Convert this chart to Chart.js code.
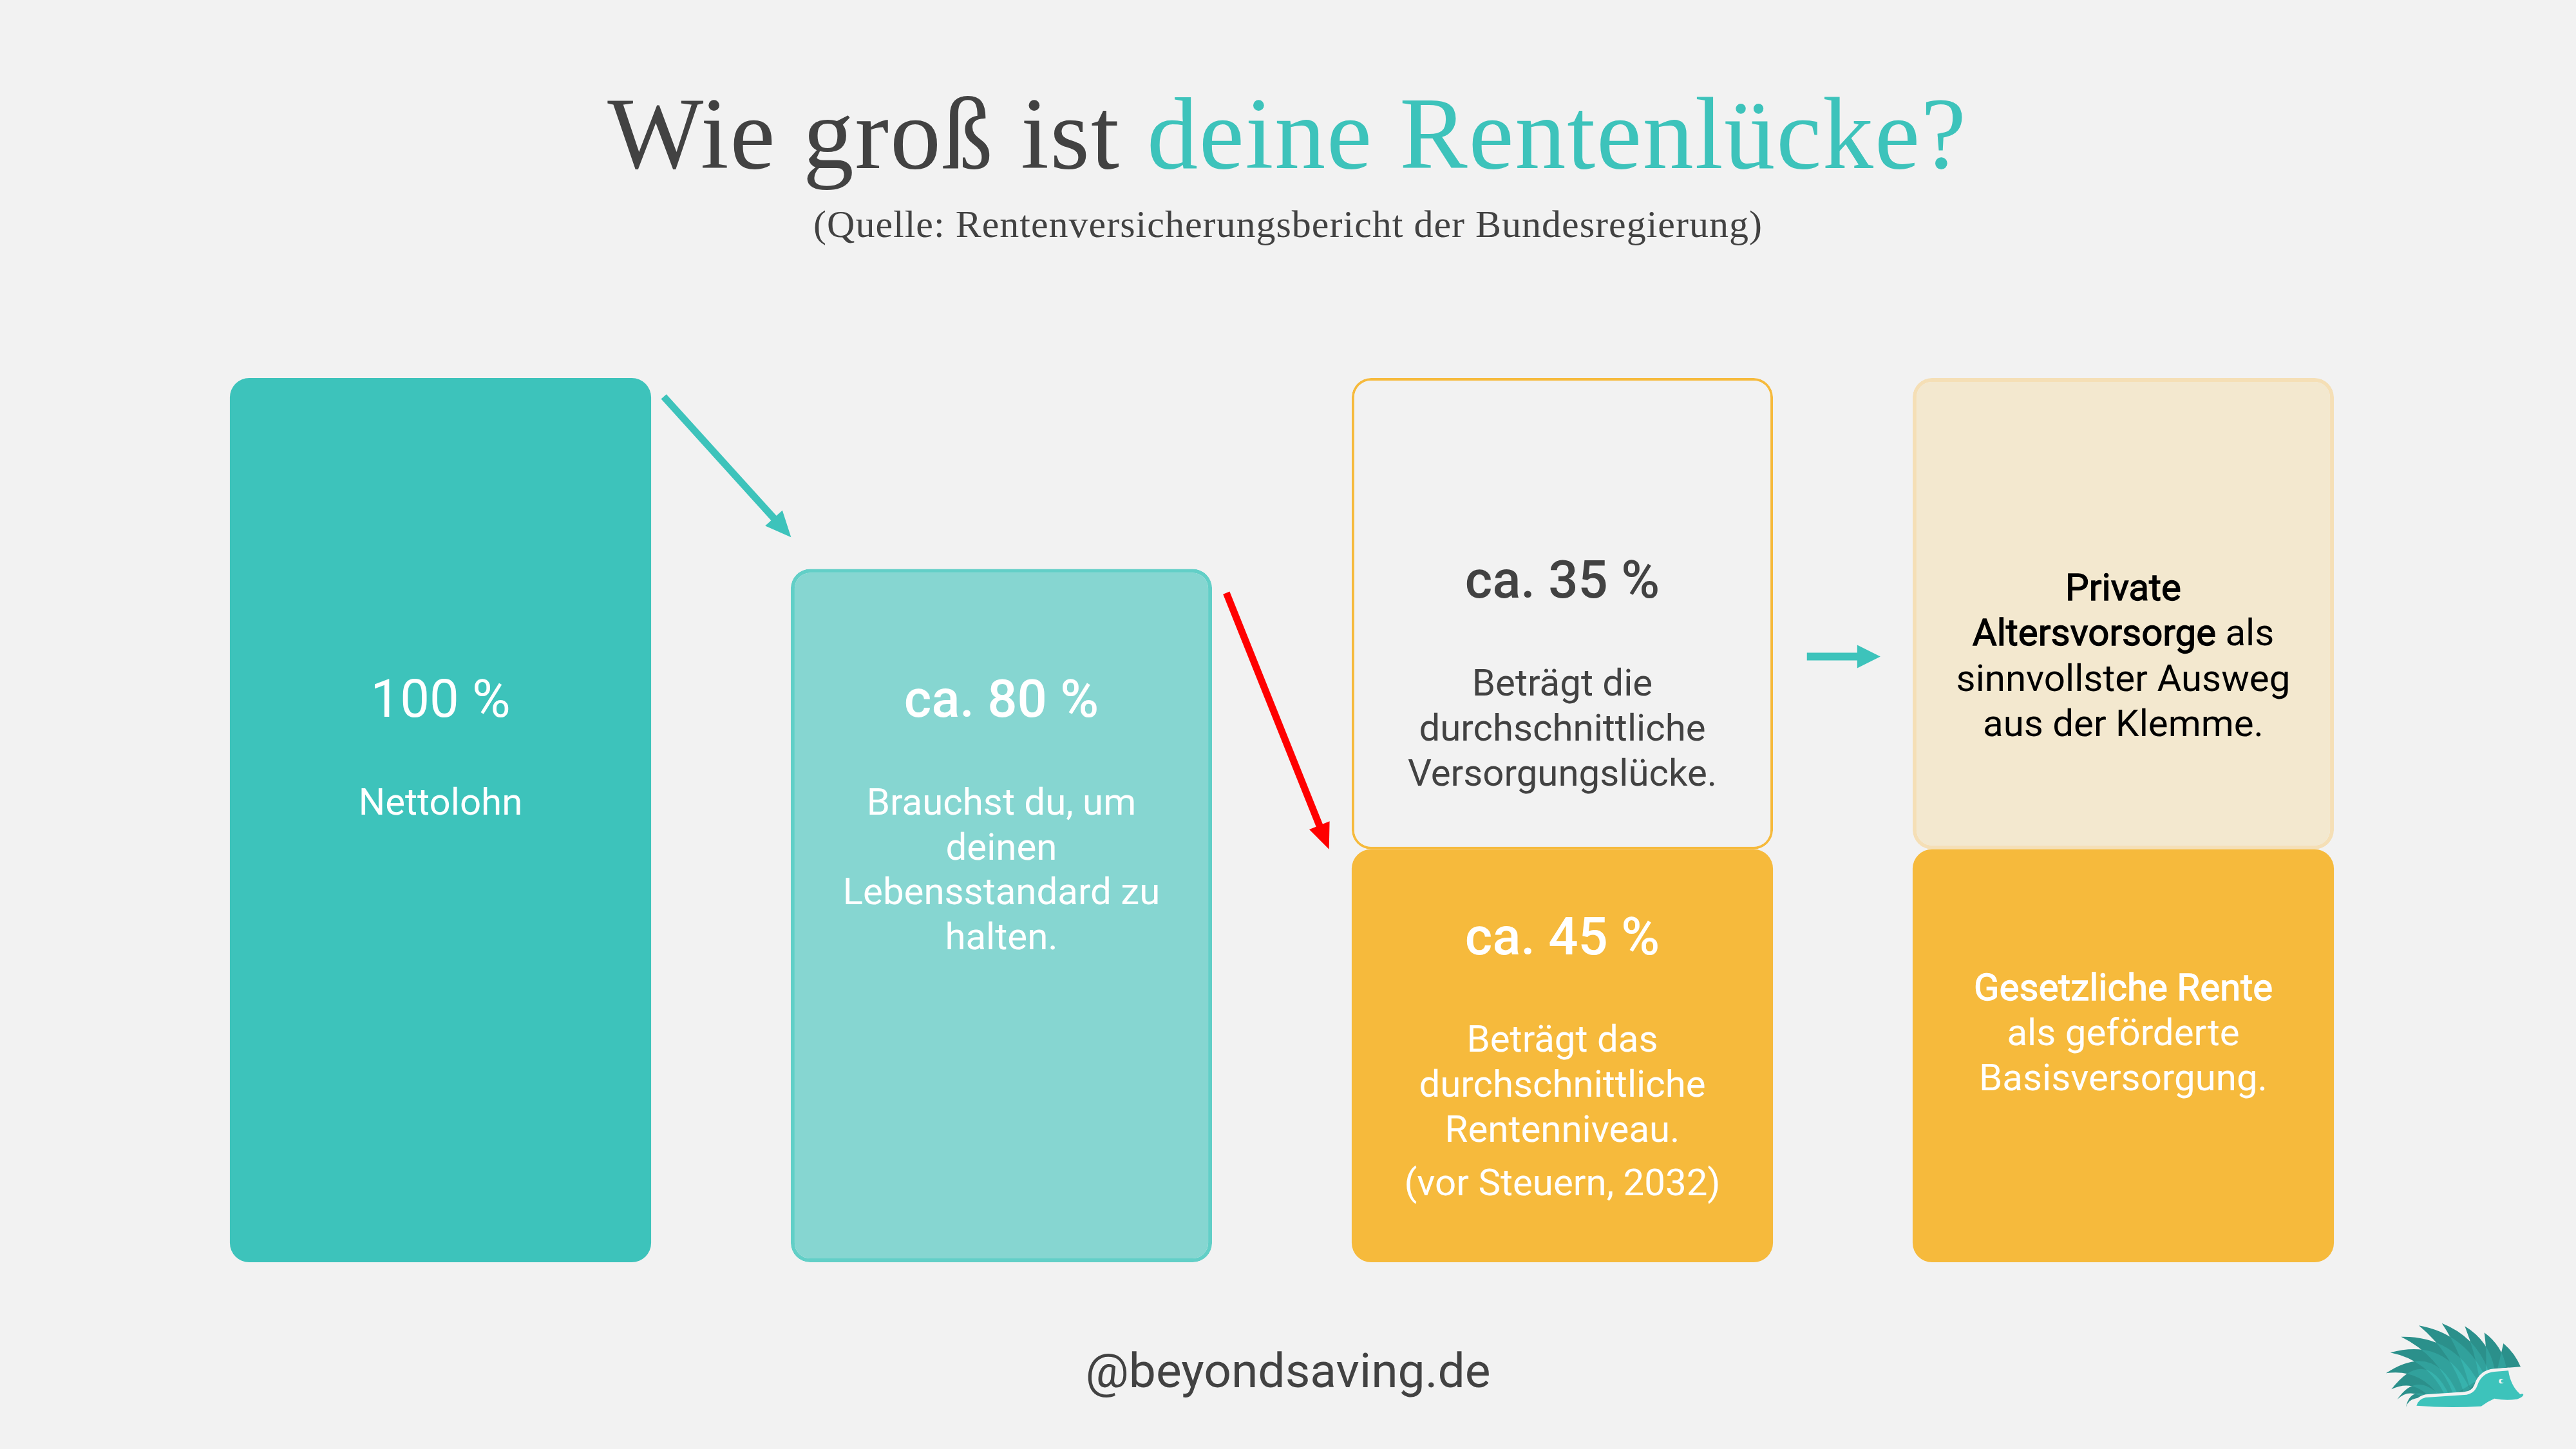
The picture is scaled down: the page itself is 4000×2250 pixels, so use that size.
<!DOCTYPE html>
<html lang="de"><head><meta charset="utf-8">
<style>html,body{margin:0;padding:0;background:#F2F2F2}canvas{display:block}</style>
<script src="https://cdn.jsdelivr.net/npm/chart.js@4/dist/chart.umd.min.js"></script>
</head><body><canvas id="c" width="4000" height="2250"></canvas>
<script>
const categories = ['Nettolohn', 'Lebensstandard', 'Rentenniveau', 'Vorsorge'];
const lowerValues = [100, 78.4, 46.7, 46.7];
const upperValues = [0, 0, 53.3, 53.3];
const titleDark = 'Wie groß ist ';
const titleTeal = 'deine Rentenlücke?';
const subtitle = '(Quelle: Rentenversicherungsbericht der Bundesregierung)';
const handle = '@beyondsaving.de';
const heads = ['100 %', 'ca. 80 %', 'ca. 35 %', 'ca. 45 %'];
const nettoLines = ['Nettolohn'];
const brauchLines = ['Brauchst du, um', 'deinen', 'Lebensstandard zu', 'halten.'];
const lueckeLines = ['Beträgt die', 'durchschnittliche', 'Versorgungslücke.'];
const niveauLines = ['Beträgt das', 'durchschnittliche', 'Rentenniveau.'];
const niveauNote = '(vor Steuern, 2032)';
const privatLines = ['Private', 'Altersvorsorge als', 'sinnvollster Ausweg', 'aus der Klemme.'];
const gesetzLines = ['Gesetzliche Rente', 'als geförderte', 'Basisversorgung.'];

const BG='#F2F2F2', TEAL='#3DC3BB', ORANGE='#F6BA3C', DARK='#424242';
const R={topLeft:30,topRight:30,bottomLeft:30,bottomRight:30};

function arrow(ctx,x0,y0,x1,y1,color,lw,hl,hw){
  const a=Math.atan2(y1-y0,x1-x0),c=Math.cos(a),s=Math.sin(a);
  const bx=x1-c*hl,by=y1-s*hl;
  ctx.save();ctx.strokeStyle=color;ctx.fillStyle=color;ctx.lineWidth=lw;
  ctx.beginPath();ctx.moveTo(x0,y0);ctx.lineTo(bx+c,by+s);ctx.stroke();
  ctx.beginPath();ctx.moveTo(x1,y1);ctx.lineTo(bx-s*hw/2,by+c*hw/2);ctx.lineTo(bx+s*hw/2,by-c*hw/2);ctx.closePath();ctx.fill();
  ctx.restore();
}
const LEAVES=[[682,198,762,307,655,315,.12,0],[593,148,695,310,600,325,.2,.05],[502,118,640,315,570,360,.22,.05],[395,104,610,320,530,430,.22,.1],[288,115,590,340,500,435,.25,.15],[205,167,560,370,450,438,.3,.2],[155,241,530,420,410,440,.43,.25],[135,337,470,438,380,440,.6,.3],[160,412,430,440,330,440,.8,.35],[187,460,385,440,290,440,.6,.35],[228,495,330,440,270,455,.6,.3]];
function logo(ctx,ox,oy,k){
  ctx.save();ctx.translate(ox,oy);ctx.scale(k,k);
  const path=l=>{const [tx,ty,rx,ry,lx,ly,q1,q2]=l;
    const bulge=(ax,ay,bx,by,q)=>[(ax+bx)/2+(by-ay)*q,(ay+by)/2-(bx-ax)*q];
    const c1=bulge(tx,ty,rx,ry,q1),c2=bulge(tx,ty,lx,ly,q2);
    ctx.beginPath();ctx.moveTo(tx,ty);ctx.quadraticCurveTo(c1[0],c1[1],rx,ry);ctx.lineTo(lx,ly);ctx.quadraticCurveTo(c2[0],c2[1],tx,ty);ctx.closePath();};
  ctx.fillStyle='rgb(37,127,122)';LEAVES.forEach(l=>{path(l);ctx.fill();});
  ctx.globalCompositeOperation='lighter';ctx.fillStyle='rgb(6,17,17)';LEAVES.forEach(l=>{path(l);ctx.fill();});
  ctx.globalCompositeOperation='source-over';
  const body=()=>{ctx.beginPath();ctx.moveTo(277,488);ctx.quadraticCurveTo(285,458,320,450);ctx.lineTo(500,438);ctx.quadraticCurveTo(545,435,560,395);ctx.quadraticCurveTo(580,335,640,330);ctx.lineTo(705,325);ctx.quadraticCurveTo(715,395,760,435);ctx.quadraticCurveTo(775,430,775,438);ctx.quadraticCurveTo(770,450,745,458);ctx.quadraticCurveTo(690,465,640,455);ctx.quadraticCurveTo(605,470,578,491);ctx.quadraticCurveTo(420,500,277,488);ctx.closePath();};
  ctx.fillStyle=BG;ctx.strokeStyle=BG;ctx.lineWidth=28;ctx.lineJoin='round';body();ctx.stroke();
  ctx.fillStyle=TEAL;body();ctx.fill();
  ctx.fillStyle=BG;ctx.beginPath();ctx.arc(672,374,11,0,7);ctx.fill();
  ctx.fillStyle=TEAL;ctx.beginPath();ctx.arc(678,374,7,0,7);ctx.fill();
  ctx.restore();
}
function line(ctx,x,y,runs,size,color){
  if(typeof runs==='string')runs=[[runs,400]];
  const fw=r=>(r[1]==='faux'?400:r[1])+' '+size+'px Roboto';
  const w=runs.map(r=>{ctx.font=fw(r);return ctx.measureText(r[0]).width;});
  let cx=x-w.reduce((a,b)=>a+b,0)/2;
  ctx.fillStyle=color;ctx.strokeStyle=color;ctx.lineWidth=1.3;ctx.textAlign='left';ctx.textBaseline='alphabetic';
  runs.forEach((r,i)=>{ctx.font=fw(r);ctx.fillText(r[0],cx,y);if(r[1]==='faux')ctx.strokeText(r[0],cx,y);cx+=w[i];});
}
const BODY=58.2, HEAD=81.5;
const overlay={id:'overlay',
  beforeDraw(ch){const c=ch.ctx;c.save();c.fillStyle=BG;c.fillRect(0,0,ch.width,ch.height);c.restore();},
  afterDraw(ch){
    const c=ch.ctx,X=ch.scales.x,Y=ch.scales.y,cx=i=>X.getPixelForValue(i);
    c.save();
    c.font='158px "Liberation Serif"';c.letterSpacing='1.8px';c.textAlign='left';c.textBaseline='alphabetic';
    const w1=c.measureText(titleDark).width,w2=c.measureText(titleTeal).width;
    let tx=1999-(w1+w2)/2;
    c.fillStyle=DARK;c.fillText(titleDark,tx,261);c.fillStyle=TEAL;c.fillText(titleTeal,tx+w1,261);
    c.font='60px "Liberation Serif"';c.letterSpacing='1px';c.textAlign='center';c.fillStyle=DARK;c.fillText(subtitle,2000,368);
    c.letterSpacing='0px';
    line(c,cx(0),1113,[[heads[0],400]],HEAD,'#fff');
    line(c,cx(0),1265,nettoLines[0],BODY,'#fff');
    line(c,cx(1),1113,[[heads[1],500]],HEAD,'#fff');
    brauchLines.forEach((t,i)=>line(c,cx(1),1265+i*69.7,t,BODY,'#fff'));
    line(c,cx(2),928,[[heads[2],500]],HEAD,DARK);
    lueckeLines.forEach((t,i)=>line(c,cx(2),1080+i*70,t,BODY,DARK));
    line(c,cx(2),1482,[[heads[3],500]],HEAD,'#fff');
    niveauLines.forEach((t,i)=>line(c,cx(2),1633+i*70,t,BODY,'#fff'));
    line(c,cx(2),1856,niveauNote,BODY,'#fff');
    line(c,cx(3),932,[[privatLines[0],'faux']],BODY,'#000');
    line(c,cx(3),1002,[['Altersvorsorge','faux'],[' als',400]],BODY,'#000');
    line(c,cx(3),1073,privatLines[2],BODY,'#000');
    line(c,cx(3),1143,privatLines[3],BODY,'#000');
    line(c,cx(3),1553,[[gesetzLines[0],'faux']],BODY,'#fff');
    line(c,cx(3),1623,gesetzLines[1],BODY,'#fff');
    line(c,cx(3),1693,gesetzLines[2],BODY,'#fff');
    line(c,2000,2154,handle,75,DARK);
    const A=(a,b,d,e,col,lw,hl,hw)=>arrow(c,X.getPixelForValue(a),Y.getPixelForValue(b),X.getPixelForValue(d),Y.getPixelForValue(e),col,lw,hl,hw);
    A(0.398,97.9,0.625,82,TEAL,11,40,36);
    A(1.401,75.7,1.584,46.7,'#FF0000',11,40,34);
    A(2.436,68.5,2.567,68.5,TEAL,12,36,36);
    logo(c,3660,2020,1/3);
    c.restore();
  }};
new Chart(document.getElementById('c'),{
  type:'bar',
  data:{labels:categories,datasets:[
    {label:'Basis',data:lowerValues,stack:'s',borderRadius:R,borderSkipped:false,borderWidth:[0,6,0,0],
     backgroundColor:[TEAL,'#86D6D1',ORANGE,ORANGE],borderColor:[TEAL,'#62CFC7',ORANGE,ORANGE]},
    {label:'Lücke',data:upperValues,stack:'s',borderRadius:R,borderSkipped:false,borderWidth:[0,0,4,6],
     backgroundColor:[BG,BG,BG,'#F3E8CF'],borderColor:[BG,BG,ORANGE,'#F5DFB6']}
  ]},
  options:{responsive:false,devicePixelRatio:1,animation:false,
    layout:{padding:{left:248.5,right:267.5,top:587,bottom:290}},
    datasets:{bar:{categoryPercentage:1,barPercentage:0.751}},
    plugins:{legend:{display:false},title:{display:false},tooltip:{enabled:false}},
    scales:{x:{display:false,stacked:true},y:{display:false,stacked:true,min:0,max:100}}},
  plugins:[overlay]
});
</script></body></html>
